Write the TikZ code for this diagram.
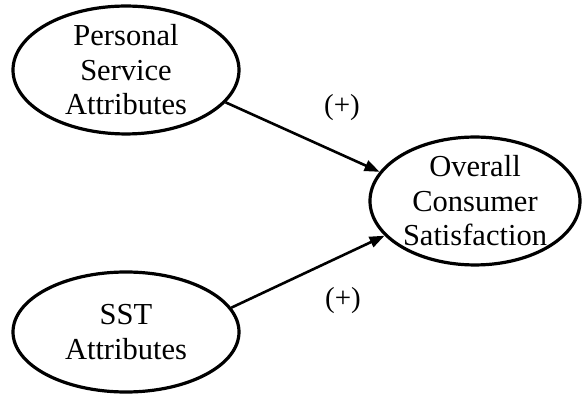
\documentclass[tikz,border=0pt]{standalone}
\usepackage{fontspec}
\setmainfont{Liberation Serif}
\usetikzlibrary{shapes.geometric,arrows.meta}
\begin{document}
\begin{tikzpicture}[x=1pt,y=-1pt,
  construct/.style={draw=black,line width=3.2pt,ellipse,inner sep=0pt,align=center,
    font=\fontsize{30.5}{34.5}\selectfont},
  path/.style={draw=black,line width=2.6pt,-{Triangle[length=15pt,width=11pt]}},
  sign/.style={font=\fontsize{29}{32}\selectfont}]
\useasboundingbox (0,0) rectangle (582,395);
\node[construct,minimum width=226pt,minimum height=122pt] (p) at (126,70) {Personal\\Service\\Attributes};
\node[construct,minimum width=226pt,minimum height=120pt] (s) at (126,332) {SST\\Attributes};
\node[construct,minimum width=210pt,minimum height=124pt] (o) at (475,201) {Overall\\Consumer\\Satisfaction};
\draw[path] (p.-18) -- (o.163);
\draw[path] (s.13) -- (o.201);
\node[sign] (t1) at (342,108) {(+)};
\node[sign] (t2) at (343,301) {(+)};
\end{tikzpicture}
\end{document}
